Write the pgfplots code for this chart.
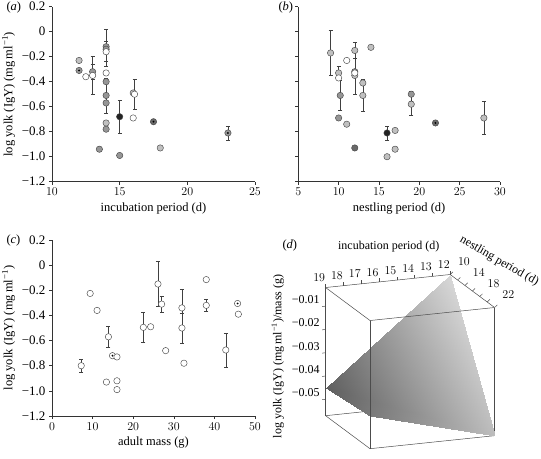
\documentclass[border=0pt]{standalone}
\usepackage{pgfplots}
\pgfplotsset{compat=1.18}
\usepackage{fontspec}
\setmainfont{Liberation Serif}
\definecolor{cL}{RGB}{192,192,192}
\definecolor{cM}{RGB}{150,150,150}
\definecolor{cD}{RGB}{105,105,105}
\definecolor{cK}{RGB}{35,35,35}
\definecolor{edge}{RGB}{70,70,70}
\pgfplotsset{
  panel/.style={scale only axis, width=203pt, height=175pt,
    axis x line*=bottom, axis y line*=left, tick align=outside,
    ymin=-1.2, ymax=0.2, ytick={-1.2,-1.0,-0.8,-0.6,-0.4,-0.2,0,0.2},
    yticklabels={−1.2,−1.0,−0.8,−0.6,−0.4,−0.2,0,0.2},
    major tick length=3pt, tick style={black!80, line width=0.5pt},
    axis line style={black!80, line width=0.5pt},
    tick label style={font=\fontsize{13}{15}\selectfont},
    label style={font=\fontsize{12.5}{15}\selectfont},
    clip=false},
  mk/.style={only marks, mark=*, mark size=3.2pt, mark options={draw=edge, line width=0.45pt, fill=#1}},
  dot/.style={only marks, mark=*, mark size=0.7pt, mark options={draw=black, fill=black}},
  eb/.style={only marks, mark=none, error bars/.cd, y dir=both, y explicit,
    error bar style={draw=black!75, line width=0.5pt},
    error mark options={rotate=90, draw=black!75, mark size=2pt, line width=0.5pt}},
}
\begin{document}
\begin{tikzpicture}
\path[use as bounding box] (0,0) rectangle (541pt,-458pt);
\tikzset{every node/.style={font=\fontsize{12.5}{15}\selectfont}}
% ---------- (a)
\begin{axis}[panel, at={(52pt,-181.7pt)}, anchor=south west,
  xmin=10, xmax=25, xtick={10,15,20,25},
  xlabel={incubation period (d)}, ylabel={log yolk (IgY) (mg\,ml\textsuperscript{−1})}]
\addplot[eb] table[x=x, y=y, y error=e, row sep=\\] {x y e\\ 13 -0.35 0.15\\ 13 -0.32 0.06\\ 14 -0.13 0.15\\ 14 -0.16 0.08\\ 14 -0.51 0.14\\ 15 -0.68 0.135\\ 16.1 -0.50 0.12\\ 23 -0.81 0.055\\};
\addplot[mk=cL] coordinates {(12,-0.23) (14,-0.73) (18,-0.93) (16,-0.49)};
\addplot[mk=cM] coordinates {(13,-0.32) (14,-0.12) (14,-0.14) (14,-0.40) (14,-0.51) (14,-0.57) (14,-0.78) (13.5,-0.94) (15,-0.99) (12,-0.31) (23,-0.81)};
\addplot[mk=cD] coordinates {(17.5,-0.72)};
\addplot[mk=cK] coordinates {(15,-0.68)};
\addplot[mk=white] coordinates {(12.5,-0.36) (13,-0.35) (14,-0.16) (14,-0.33) (16.1,-0.50) (16,-0.69)};
\addplot[dot] coordinates {(12,-0.31) (23,-0.81) (17.5,-0.72)};
\end{axis}
\node[anchor=west] at (3pt,-7pt) {(\textit{a})};
% ---------- (b)
\begin{axis}[panel, at={(298.3pt,-181.7pt)}, anchor=south west, width=201.7pt,
  yticklabels={}, xmin=5, xmax=30, xtick={5,10,15,20,25,30},
  xlabel={nestling period (d)}]
\addplot[eb] table[x=x, y=y, y error=e, row sep=\\] {x y e\\ 9 -0.17 0.18\\ 10 -0.33 0.05\\ 10.2 -0.51 0.12\\ 12 -0.15 0.065\\ 12 -0.32 0.18\\ 13 -0.51 0.13\\ 16 -0.81 0.055\\ 19 -0.57 0.095\\ 28 -0.69 0.13\\};
\addplot[mk=cL] coordinates {(9,-0.17) (10,-0.33) (11,-0.74) (12,-0.15) (12,-0.35) (13,-0.41) (13,-0.51) (14,-0.125) (16,-1.0) (17,-0.79) (17,-0.94) (19,-0.58) (28,-0.69)};
\addplot[mk=cM] coordinates {(10.2,-0.51) (10,-0.69) (12,-0.32) (19,-0.50)};
\addplot[mk=cD] coordinates {(12,-0.93) (22,-0.73)};
\addplot[mk=cK] coordinates {(16,-0.81)};
\addplot[mk=white] coordinates {(10,-0.37) (11,-0.23) (12,-0.33)};
\addplot[dot] coordinates {(22,-0.73)};
\end{axis}
\node[anchor=west] at (275pt,-7pt) {(\textit{b})};
% ---------- (c)
\begin{axis}[panel, at={(52pt,-416pt)}, anchor=south west, height=176pt,
  xmin=0, xmax=50, xtick={0,10,20,30,40,50},
  xlabel={adult mass (g)}, ylabel={log yolk (IgY) (mg\,ml\textsuperscript{−1})}]
\addplot[eb] table[x=x, y=y, y error=e, row sep=\\] {x y e\\ 7.2 -0.80 0.055\\ 13.9 -0.57 0.08\\ 22.5 -0.495 0.12\\ 26.1 -0.15 0.18\\ 27.0 -0.31 0.065\\ 32.0 -0.34 0.145\\ 32.0 -0.50 0.12\\ 38 -0.32 0.05\\ 42.8 -0.675 0.135\\};
\addplot[mk=white] coordinates {(7.2,-0.80) (9.4,-0.225) (11.1,-0.36) (13.9,-0.57) (13.4,-0.93) (14.9,-0.72) (16.0,-0.73) (16.0,-0.92) (16.0,-0.99) (22.5,-0.495) (24.3,-0.49) (26.1,-0.15) (27.0,-0.31) (28.0,-0.68) (32.0,-0.34) (32.0,-0.50) (32.5,-0.78) (38,-0.115) (38,-0.32) (42.8,-0.675) (45.7,-0.305) (45.9,-0.39)};
\addplot[dot] coordinates {(14.9,-0.72) (45.7,-0.305)};
\end{axis}
\node[anchor=west] at (3pt,-240pt) {(\textit{c})};
% ---------- (d)
\begin{scope}[xshift=-5pt, yshift=-28pt]
\begin{axis}[at={(455.2pt,-246.5pt)}, anchor=origin, disabledatascaling,
  x={(-17.8pt,-1.86pt)}, y={(3.7pt,-2.75pt)}, z={(0pt,2330pt)},
  xmin=12, xmax=19, ymin=10, ymax=22, zmin=-0.057, zmax=-0.002,
  3d box=complete, scaled z ticks=false,
  axis line style={black!70, line width=0.5pt},
  xtick={12,13,...,19}, ytick={10,14,18,22},
  ztick={-0.05,-0.04,-0.03,-0.02,-0.01},
  zticklabels={−0.05,−0.04,−0.03,−0.02,−0.01},
  tick align=outside, major tick length=3pt,
  tick style={draw=none},
  tick label style={font=\fontsize{12}{14}\selectfont},
  yticklabel style={xshift=3pt, yshift=4pt},
  label style={font=\fontsize{12}{14}\selectfont},
  xlabel={incubation period (d)}, ylabel={nestling period (d)},
  xlabel style={xshift=18pt},
  ylabel style={at={(ticklabel cs:0.5,9pt)}, anchor=center, rotate=-30},
  zlabel={log yolk (IgY) (mg\,ml\textsuperscript{−1})/mass (g)},
  zlabel style={at={(ticklabel cs:0.36)}},
  colormap={gr}{rgb255=(95,95,95) rgb255=(215,215,215)},
  xticklabel pos=right, yticklabel pos=right, zticklabel pos=left,
  clip=false]
\addplot3[surf, shader=interp, point meta=explicit] coordinates {
(12,10,-0.002) [1] (12,22,-0.057) [0.78]

(19,10,-0.045) [0] (19,22,-0.043) [0.22]
};
\pgfplotsinvokeforeach{12,13,...,19}{\draw[black!70, line width=0.5pt] (axis cs:#1,10,-0.002) -- (axis cs:#1,10,-0.0005);}
\pgfplotsinvokeforeach{10,12,...,22}{\draw[black!70, line width=0.5pt] (axis cs:12,#1,-0.002) -- (axis cs:11.85,#1,-0.001);}
\pgfplotsinvokeforeach{-0.05,-0.04,-0.03,-0.02,-0.01}{\draw[black!70, line width=0.5pt] (axis cs:19,10,#1) -- (axis cs:19.2,10,#1);}
\end{axis}
\end{scope}
\node[anchor=west] at (279pt,-245pt) {(\textit{d})};
\end{tikzpicture}
\end{document}
